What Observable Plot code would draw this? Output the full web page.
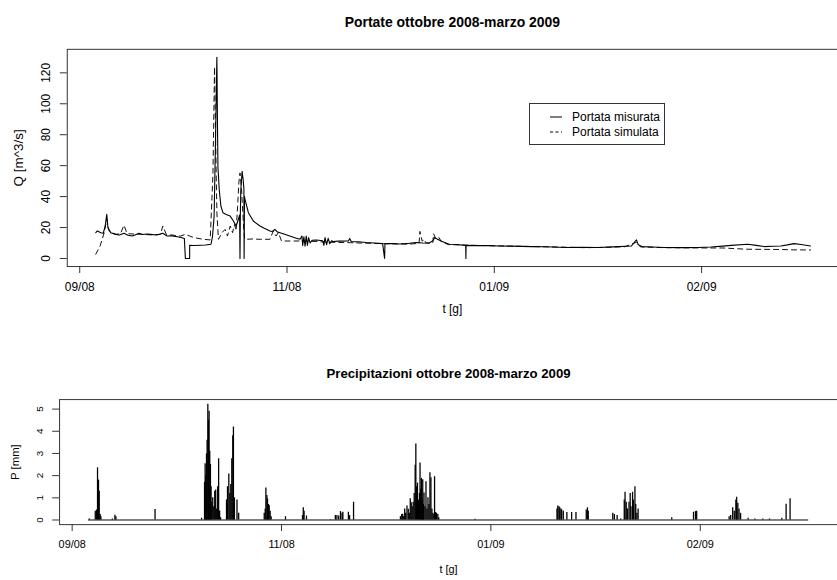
<!DOCTYPE html>
<html><head><meta charset="utf-8">
<script src="https://cdn.jsdelivr.net/npm/d3@7"></script>
<script src="https://cdn.jsdelivr.net/npm/@observablehq/plot@0.6"></script>
<style>
html,body{margin:0;padding:0;background:#fff}
body{width:837px;height:580px;overflow:hidden;position:relative;font-family:"Liberation Sans",Arial,sans-serif}
#top{position:absolute;left:0;top:0}
#bot{position:absolute;left:0;top:340px}
#legend{position:absolute;left:529px;top:103px;width:136px;height:42px;box-sizing:border-box;border:1px solid #333;background:#fff}
</style></head><body>
<div id="top"></div><div id="bot"></div>
<div id="legend"><svg width="134" height="40" style="display:block">
<line x1="20" x2="32" y1="13" y2="13" stroke="#000" stroke-width="1"/>
<line x1="20" x2="32" y1="28" y2="28" stroke="#000" stroke-width="1" stroke-dasharray="3,2.5"/>
<text x="42" y="13" dy="0.35em" font-size="12" fill="#000">Portata misurata</text>
<text x="42" y="28" dy="0.35em" font-size="12" fill="#000">Portata simulata</text>
</svg></div>
<script>
// ---- data (x in days from the start of the record) ----
const tickDays = [-4.1, 48.8, 101.7, 154.6];
const tickLabels = ["09/08", "11/08", "01/09", "02/09"];
const qTicks = [0, 20, 40, 60, 80, 100, 120];
const pTicks = [0, 1, 2, 3, 4, 5];

const titleQ = "Portate ottobre 2008-marzo 2009";
const titleP = "Precipitazioni ottobre 2008-marzo 2009";
const xLabel = "t [g]";
const yLabelQ = "Q [m^3/s]";
const yLabelP = "P [mm]";

// measured discharge
const measDays = [0.0,0.4,1.3,1.9,2.4,2.8,3.1,3.8,5.1,6.0,7.2,8.2,9.3,10.0,11.0,12.0,13.0,14.0,15.5,17.1,18.2,19.5,20.8,21.8,22.6,22.86,23.95,23.96,25.0,26.7,28.0,29.4,29.8,30.2,30.6,30.9,31.07,31.17,31.5,31.93,32.44,33.27,34.29,35.13,35.81,36.25,36.7,36.8,36.9,37.0,37.34,37.6,37.8,37.85,37.95,38.1,38.94,40.2,41.9,43.0,44.45,45.0,45.7,46.3,47.0,48.0,49.5,51.0,52.1,52.6,52.8,53.1,53.4,53.7,54.0,54.3,54.7,55.2,56.3,57.9,58.2,58.5,58.9,59.3,59.7,60.2,60.5,62.0,64.5,64.8,65.2,67.0,69.0,71.0,73.2,73.7,73.8,75.5,77.5,80.0,81.7,83.5,85.1,86.0,86.5,87.2,88.4,90.2,92.0,94.4,94.45,94.5,97.0,100.0,102.9,106.0,111.3,115.0,119.8,124.0,128.3,132.0,136.7,137.6,138.0,138.4,139.3,142.0,145.2,150.0,153.7,157.0,160.0,162.1,166.4,168.5,170.6,172.5,174.8,176.5,178.2,180.0,182.4];
const measQ = [16.7,17.8,16.7,16.3,21,28.5,19.9,16.7,15.6,15.2,16.3,15.0,14.5,15.2,16.3,15.5,15.8,15.6,15.2,16.3,14.5,14.6,14.1,13.6,12.9,0,0,8.6,8.4,8.6,8.7,9.2,14.5,27.4,83,130,83,59.5,44.6,33.8,29.6,28.5,27.4,24.2,21,24.2,28,0,30,44,56.3,51,45,0,40,38,29.6,24.2,21,19.5,17.8,17.5,18.8,17.2,16.7,15.8,14.5,13.2,12.4,14.5,8.5,14,8,14.5,8.5,13.5,10,11.8,12,11.5,8.5,13.5,9,13,9.5,11.5,11,11.2,11.3,13,10.8,10.8,10.3,10.0,9.6,0,9.6,9.6,9.4,9.8,10.3,10.0,9.9,11.5,13.5,12.5,11,9.2,9.0,8.5,0,8.5,8.3,8.3,8.1,8.0,7.7,7.6,7.1,7.3,7.1,7.5,8.1,11,12,9,7.7,7.4,7.1,7.0,7.1,7.4,8.0,8.5,9.2,8.5,7.7,7.9,8.1,8.8,9.6,9.0,8.1];

// simulated discharge
const simDays = [0.0,1.1,2.1,2.8,3.4,5.1,6.3,7.2,8.0,11.4,14.0,16.5,17.1,18.0,21.6,22.86,25.0,27.5,29.2,29.9,30.3,30.65,30.9,31.3,32.2,33.0,33.6,34.3,34.9,35.4,35.8,36.2,36.5,36.8,37.2,37.7,38.0,40.0,42.0,44.45,45.3,46.0,46.6,47.4,52.1,56.0,60.0,65.0,70.0,75.0,80.0,82.5,82.7,83.3,83.8,84.2,86.0,86.2,86.8,87.6,88.2,90.0,95.0,100.0,105.0,110.0,115.0,120.0,125.0,130.0,135.0,138.0,139.0,145.0,150.0,155.0,160.0,163.0,166.0,170.0,175.0,178.0,182.4];
const simQ = [2.8,8.1,16.3,25.3,17.8,15.6,16.0,21.5,16.0,15.6,15.3,15.5,21.0,15.6,14.5,15.6,13.5,12.4,12.0,55,123.8,66,29.6,12.4,16.7,18.8,14.5,21,16.7,22,18,33.8,48.9,55.3,44.6,21,12.4,12.6,12.4,12.4,17.8,14.5,16.7,11.3,11.3,11.0,10.5,10.2,9.8,9.5,9.3,9.8,17.5,11.2,12.5,10.2,10.0,16.0,12.5,13.5,10.8,9.0,8.6,8.3,8.0,7.8,7.5,7.3,7.0,7.2,7.6,10.5,7.5,7.0,6.9,6.8,6.8,6.4,6.0,5.9,5.8,5.6,5.5];

// precipitation
const rainDays = [0.25,1.74,2.06,2.31,2.56,2.74,2.98,3.16,6.05,6.7,6.96,16.84,28.6,29.35,29.5,29.67,29.84,30.0,30.18,30.34,30.5,30.67,30.84,31.0,31.17,31.42,31.67,31.92,32.17,32.42,32.67,32.91,33.16,33.41,34.9,35.15,35.48,35.73,35.98,36.23,36.48,36.65,36.9,37.55,37.97,44.43,44.68,44.85,45.1,45.26,45.5,45.68,45.93,46.18,49.8,54.1,54.3,54.5,55.1,61.2,62.4,62.8,63.25,63.7,64.1,64.3,65.7,66.0,67.0,78.84,79.17,79.42,79.67,79.92,80.17,80.5,80.83,81.08,81.33,81.57,81.82,82.07,82.32,82.57,82.74,82.9,83.15,83.4,83.65,83.8,83.98,84.14,84.3,84.48,84.64,84.8,85.05,85.3,85.55,85.8,86.05,86.3,86.55,86.8,87.05,87.3,87.47,87.72,87.97,88.3,88.54,97.7,118.4,118.6,118.9,119.1,119.4,119.6,120.0,120.9,122.1,123.2,125.8,126.1,126.3,132.5,132.9,133.6,134.5,135.4,135.6,135.9,136.2,136.6,136.9,137.1,137.5,137.7,138.1,138.3,138.6,138.9,147.4,152.9,153.4,153.7,161.9,162.3,162.8,163.2,163.6,163.8,164.1,164.4,164.8,166.7,168.4,170.4,172.1,175.2,176.3,177.3];
const rainP = [0.05,0.4,0.45,2.35,1.8,1.3,0.25,0.15,0.05,0.22,0.15,0.47,0.08,1.7,2.54,2.0,2.98,3.6,5.22,4.5,4.9,3.1,2.5,1.5,0.8,1.0,0.6,1.3,1.35,0.5,1.5,2.76,0.4,0.1,0.9,1.5,2.07,1.2,1.6,2.76,3.8,4.19,1.0,0.9,0.3,0.3,0.5,1.44,1.1,0.95,0.7,0.64,0.4,0.15,0.15,0.2,0.55,0.4,0.18,0.02,0.2,0.2,0.18,0.38,0.3,0.35,0.35,0.2,0.8,0.15,0.25,0.26,0.15,0.5,0.3,0.63,0.49,0.3,0.96,0.78,0.6,0.8,1.2,2.47,3.43,1.5,1.66,0.9,1.2,2.57,1.4,1.88,0.9,1.81,0.7,1.22,0.6,1.73,0.5,1.0,0.7,2.13,1.9,0.5,0.3,0.25,1.95,0.34,0.3,0.25,0.1,0.03,0.5,0.63,0.6,0.55,0.5,0.45,0.4,0.34,0.34,0.34,0.45,0.55,0.4,0.3,0.25,0.2,0.05,0.9,1.25,0.8,0.5,0.8,1.2,0.6,1.25,0.9,1.5,0.7,0.3,0.5,0.1,0.35,0.38,0.4,0.15,0.2,0.55,0.4,0.9,1.03,0.75,0.5,0.3,0.08,0.05,0.05,0.05,0.08,0.71,0.96];
const periodStart = 0, periodEnd = 182;

// ---- tables ----
const meas = measDays.map((d, i) => ({day: d, q: measQ[i]}));
const sim = simDays.map((d, i) => ({day: d, q: simQ[i]}));
const rain = rainDays.map((d, i) => ({day: d, p: rainP[i]}));
const fmtTick = d => tickLabels[tickDays.indexOf(d)];
const xDom = [periodStart - 0.04 * (periodEnd - periodStart + 14.5) , periodEnd + 0.04 * (periodEnd - periodStart + 14.5)];
const font = "'Liberation Sans', Arial, sans-serif";

const qMax = d3.max(measQ);
const topChart = Plot.plot({
  width: 840, height: 330,
  marginLeft: 67, marginRight: 0, marginTop: 49, marginBottom: 63,
  style: {fontFamily: font, background: "white", color: "black", overflow: "visible"},
  x: {domain: [-7.28, 189.28]},
  y: {domain: [-0.04 * qMax, qMax * 1.04]},
  marks: [
    Plot.frame({stroke: "#333"}),
    Plot.axisX({ticks: tickDays, tickFormat: fmtTick, tickSize: 7, tickPadding: 9, fontSize: 12, label: null, stroke: "#333"}),
    Plot.axisY({ticks: qTicks, tickSize: 7, tickFormat: () => "", label: null, stroke: "#333"}),
    Plot.text(qTicks, {y: d => d, text: d => String(d), frameAnchor: "left", dx: -21.5, rotate: -90, fontSize: 12, textAnchor: "middle", lineAnchor: "middle"}),
    Plot.text([titleQ], {text: d => d, frameAnchor: "top", dy: -27, fontSize: 14, fontWeight: "bold", lineAnchor: "middle"}),
    Plot.text([xLabel], {text: d => d, frameAnchor: "bottom", dy: 43, fontSize: 12, lineAnchor: "middle"}),
    Plot.text([yLabelQ], {text: d => d, frameAnchor: "left", dx: -49, rotate: -90, fontSize: 13.5, textAnchor: "middle", lineAnchor: "middle"}),
    Plot.line(sim, {x: "day", y: "q", stroke: "#111", strokeWidth: 1, strokeDasharray: "5,4"}),
    Plot.line(meas, {x: "day", y: "q", stroke: "#000", strokeWidth: 1.1})
  ]
});
document.getElementById("top").append(topChart);

const pMax = d3.max(rainP);
const botChart = Plot.plot({
  width: 850, height: 240,
  marginLeft: 60, marginRight: 0, marginTop: 60, marginBottom: 53,
  style: {fontFamily: font, background: "white", color: "black", overflow: "visible"},
  x: {domain: [-7.28, 189.28]},
  y: {domain: [-0.04 * pMax, pMax * 1.04]},
  marks: [
    Plot.frame({stroke: "#333"}),
    Plot.axisX({ticks: tickDays, tickFormat: fmtTick, tickSize: 7, tickPadding: 9, fontSize: 11, label: null, stroke: "#333"}),
    Plot.axisY({ticks: pTicks, tickSize: 7, tickFormat: () => "", label: null, stroke: "#333"}),
    Plot.text(pTicks, {y: d => d, text: d => String(d), frameAnchor: "left", dx: -20, rotate: -90, fontSize: 10, textAnchor: "middle", lineAnchor: "middle"}),
    Plot.text([titleP], {text: d => d, frameAnchor: "top", dy: -26, fontSize: 13.4, fontWeight: "bold", lineAnchor: "middle"}),
    Plot.text([xLabel], {text: d => d, frameAnchor: "bottom", dy: 46, fontSize: 11, lineAnchor: "middle"}),
    Plot.text([yLabelP], {text: d => d, frameAnchor: "left", dx: -45, rotate: -90, fontSize: 11.5, textAnchor: "middle", lineAnchor: "middle"}),
    Plot.ruleY([0], {x1: periodStart, x2: periodEnd, stroke: "#000", strokeWidth: 1}),
    Plot.ruleX(rain, {x: "day", y1: 0, y2: "p", stroke: "#000", strokeWidth: 1.3})
  ]
});
document.getElementById("bot").append(botChart);
</script>
</body></html>
